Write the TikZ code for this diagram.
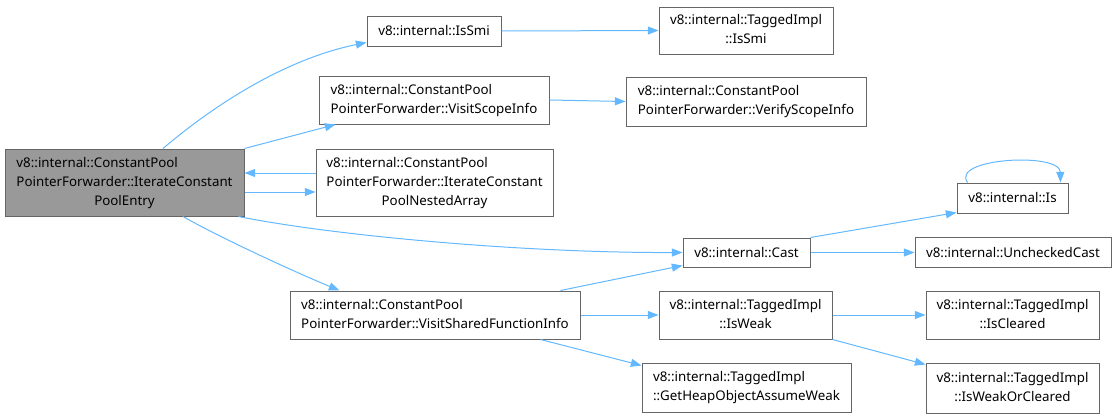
\documentclass[tikz,border=0pt]{standalone}
\usepackage{fontspec}
\setmainfont{Noto Sans}
\usetikzlibrary{arrows.meta,calc}
\definecolor{edgeblue}{HTML}{63B8FF}
\definecolor{boxline}{HTML}{666666}
\definecolor{mainfill}{HTML}{999999}
\newcommand\twolines[2]{\begin{tabular}{@{}l@{}}#1\\\multicolumn{1}{@{}c@{}}{#2}\end{tabular}}
\tikzset{
  box/.style={draw=boxline, fill=white, line width=0.75pt, inner sep=0pt,
    font=\fontsize{10pt}{14.25pt}\selectfont},
  wh/.style 2 args={minimum width=#1*0.75pt, minimum height=#2*0.75pt},
  call/.style={draw=edgeblue, line width=0.75pt,
    -{Triangle[length=8pt,width=6pt,fill=edgeblue]}},
}
\begin{document}
\begin{tikzpicture}[x=0.75pt,y=-0.75pt]
\useasboundingbox (0,0) rectangle (1116,418);
% nodes
\node[box, fill=mainfill, wh={239}{67}] (main) at (124.5,182.5)
  {\twolines{v8::internal::ConstantPool\\PointerForwarder::IterateConstant}{PoolEntry}};
\node[box, wh={134}{30}] (issmi) at (434,31) {v8::internal::IsSmi};
\node[box, wh={174}{47}] (tissmi) at (746,30.5)
  {\twolines{v8::internal::TaggedImpl}{::IsSmi}};
\node[box, wh={230}{48}] (vsi) at (434,100)
  {\twolines{v8::internal::ConstantPool}{PointerForwarder::VisitScopeInfo}};
\node[box, wh={240}{49}] (verify) at (746,101.5)
  {\twolines{v8::internal::ConstantPool}{PointerForwarder::VerifyScopeInfo}};
\node[box, wh={237}{67}] (nested) at (434.5,182.5)
  {\twolines{v8::internal::ConstantPool\\PointerForwarder::IterateConstant}{PoolNestedArray}};
\node[box, wh={127}{29}] (cast) at (746.5,252.5) {v8::internal::Cast};
\node[box, wh={111}{30}] (is) at (1012.5,198) {v8::internal::Is};
\node[box, wh={196}{30}] (unchecked) at (1013,252.5) {v8::internal::UncheckedCast};
\node[box, wh={290}{48}] (vsfi) at (435,315)
  {\twolines{v8::internal::ConstantPool}{PointerForwarder::VisitSharedFunctionInfo}};
\node[box, wh={173}{48}] (isweak) at (745.5,315)
  {\twolines{v8::internal::TaggedImpl}{::IsWeak}};
\node[box, wh={209}{49}] (getheap) at (746.5,387.5)
  {\twolines{v8::internal::TaggedImpl}{::GetHeapObjectAssumeWeak}};
\node[box, wh={173}{48}] (iscleared) at (1012.5,315)
  {\twolines{v8::internal::TaggedImpl}{::IsCleared}};
\node[box, wh={173}{50}] (iswoc) at (1012.5,388)
  {\twolines{v8::internal::TaggedImpl}{::IsWeakOrCleared}};
% edges
\draw[call] ($(main.north)+(38.5,0)$) .. controls (220,100) and (290,58) .. ($(issmi.south west)+(0,-4)$);
\draw[call] (main.north east) -- ($(vsi.south west)+(17,0)$);
\draw[call] ($(nested.west)+(0,-9.5)$) -- ($(main.east)+(0,-9.5)$);
\draw[call] ($(main.east)+(0,9.5)$) -- ($(nested.west)+(0,9.5)$);
\draw[call] ($(main.south east)+(-6,0)$) .. controls (330,235) and (520,253) .. (cast.west);
\draw[call] ($(main.south)+(58.5,0)$) .. controls (215,235) and (290,270) .. ($(vsfi.north west)+(50,0)$);
\draw[call] ($(vsfi.north east)+(-20,0)$) -- ($(cast.south west)+(0,-2)$);
\draw[call] (vsfi.east) -- (isweak.west);
\draw[call] ($(vsfi.south east)+(-40,0)$) -- ($(getheap.north west)+(0,3)$);
\draw[call] (issmi.east) -- (tissmi.west);
\draw[call] (vsi.east) -- (verify.west);
\draw[call] (cast.north east) -- ($(is.south west)+(0,-1)$);
\draw[call] (cast.east) -- (unchecked.west);
\draw[call] ($(is.north west)+(11,0)$) .. controls (950,158) and (1060,152) .. ($(is.north east)+(-8,0)$);
\draw[call] (isweak.east) -- (iscleared.west);
\draw[call] (isweak.south east) -- ($(iswoc.north west)+(0,2)$);
\end{tikzpicture}
\end{document}
